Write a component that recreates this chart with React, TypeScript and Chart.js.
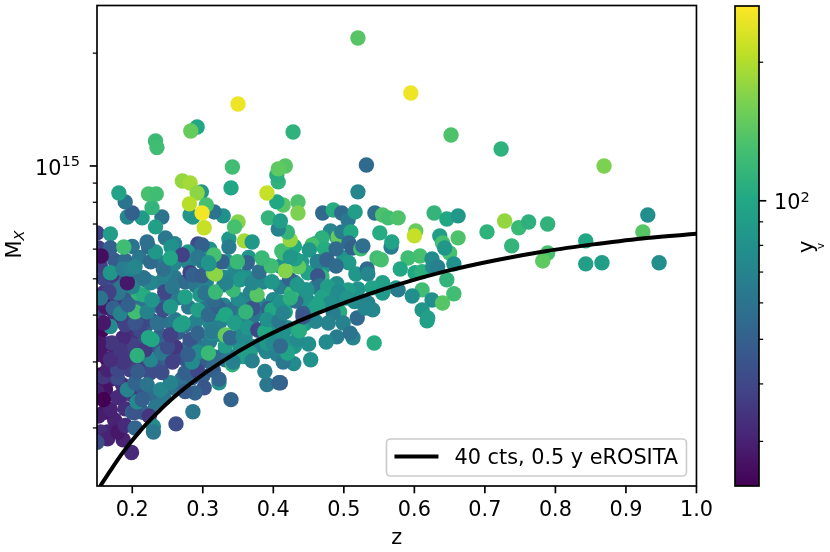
import React, { useEffect, useRef } from "react";
import { Chart, registerables } from "chart.js";

Chart.register(...registerables);

const FONT = "'DejaVu Sans'";
const FS = 20.8;

// Clusters in the crowded part of the plot, mostly hidden below the others
const zDense = [
  .16,.17,.185,.2,.215,.23,.245,.19,.175,.16,.2,.215,.165,.155,
  .26,.27,.285,.3,.315,.33,.345,.36,.31,.295,.275,.26,.24,.225,.21,.2,.175,.165,.2,.215,.235,.25,.28,.265,.295,.31,.325,.345,.36,.37,.39,.405,.415,.43,.45,
  .165,.175,.19,.205,.22,.24,.255,.275,.29,.31,.325,.355,.37,.4,.42,.445,.46,
  .16,.16,.18,.195,.21,.235,.25,.265,.28,.305,.33,.345,.36,.38,.4,.42,.45,.475,.49,.515,
  .16,.155,.175,.19,.205,.22,.24,.26,.275,.29,.305,.33,.345,.36,.385,.41,.43,.46,.49,.52,
  .175,.19,.21,.235,.26,.28,.3,.335,.365,.39,.41,.44,.47,.5,
  .2,.26,.31,.43,.46,.49,
];
const massDense = [
  2.6,2.7,2.45,2.45,2.55,2.45,2.4,2.25,2.1,2.2,2.2,2.2,1.95,1.95,
  2.55,2.7,2.72,2.75,2.85,3.15,3.1,3.15,3.0,3.0,3.05,3.1,2.95,2.8,2.95,3.1,3.3,3.35,3.5,3.35,3.3,3.05,3.3,3.6,3.3,3.4,3.55,3.45,3.5,3.3,3.2,3.15,3.25,3.3,3.35,
  3.75,3.9,4.0,3.95,3.75,3.85,3.8,3.75,3.85,3.8,3.85,3.65,3.75,3.65,3.7,3.8,3.85,
  4.3,4.6,4.4,4.45,4.25,4.25,4.45,4.45,4.2,4.25,4.25,4.15,4.35,4.3,4.4,4.35,4.35,4.5,4.25,4.35,
  5.0,5.4,4.85,5.0,4.95,4.95,4.9,5.05,4.9,4.8,4.9,5.05,5.2,5.1,4.9,4.75,4.9,4.75,4.85,4.7,
  5.6,5.6,5.7,5.6,5.5,5.5,5.55,5.55,5.7,5.45,5.4,5.55,5.35,5.7,
  6.1,6.2,6.0,6.1,6.2,6.45,
];
const yDense = [
  27,30,32,36,45,55,62,33,30,28,48,52,30,33,
  60,58,52,50,48,70,62,72,55,48,45,40,45,42,38,36,30,28,34,42,45,50,55,48,60,65,72,72,80,75,72,68,78,85,78,
  30,32,35,42,50,52,60,62,68,72,68,72,70,80,78,88,72,
  32,35,38,45,58,60,48,65,62,60,72,65,72,68,75,72,82,78,72,75,
  40,38,45,50,58,62,68,62,55,62,70,75,72,80,72,68,78,72,78,82,
  48,55,62,68,72,70,62,82,85,90,80,88,85,82,
  60,72,80,100,85,100,
];

// Cluster redshift
const zValues = [
  .155,.165,.155,.176,.162,.186,.197,.155,.15,.152,
  .169,.179,.204,.207,.214,.233,.193,.204,.221,.24,
  .254,.179,.159,.208,.242,.275,.293,.165,.179,.187,
  .155,.169,.226,.242,.257,.261,.25,.2,.187,.157,
  .261,.24,.282,.211,.254,.183,.218,.155,.19,.226,
  .353,.374,.381,.353,.332,
  .169,.159,.223,.235,.204,.272,.268,.293,.313,.332,
  .293,.315,.285,.279,.308,.367,.384,.391,.4,.357,
  .207,.228,.171,.152,.244,.176,.171,.162,.204,.208,
  .216,.18,.173,.183,.194,.221,.228,.254,.275,.293,
  .246,.257,.226,.193,.2,.183,.167,.155,.246,.216,
  .193,.171,.169,.187,.197,.204,.244,.226,.282,.286,
  .299,.315,.33,.296,.315,.32,.339,.308,.322,.316,
  .303,.318,.332,.345,.313,.332,.339,.357,.364,.378,
  .388,.414,.371,.361,.393,.398,.391,.408,.417,.41,
  .432,.426,.445,.466,.445,.459,.435,.35,.367,.343,
  .377,.353,.37,.398,.333,.318,.449,.423,.436,.417,
  .462,.431,.414,.38,.397,.384,.363,.349,.327,.309,
  .15,.152,.169,.169,.188,.223,.233,.247,.255,.221,
  .293,.299,.279,.271,.293,.254,.316,.308,.156,.337,
  .337,.359,.37,.35,.345,.412,.424,.42,.407,.393,
  .41,.414,.405,.391,.407,.405,.417,.407,.34,.329,
  .316,.242,.233,.214,.193,.2,.228,.19,.181,.223,
  .234,.298,.282,.286,.271,.282,.292,.305,.281,.299,
  .302,.435,.435,.52,.595,.35,.652,.723,.869,.532,
  .428,.292,.283,.233,.235,.342,.52,.47,.485,.497,
  .506,.516,.544,.555,.563,.577,.628,.646,.662,.602,
  .6,.636,.662,.65,.64,.643,.608,.591,.625,.551,
  .567,.568,.547,.553,.58,.601,.611,.626,.633,.656,
  .646,.611,.597,.625,.656,.64,.611,.618,.619,.481,
  .469,.455,.451,.473,.492,.497,.51,.507,.512,.524,
  .527,.489,.507,.463,.476,.489,.424,.469,.463,.517,
  .533,.534,.466,.477,.448,.434,.555,.54,.574,.577,
  .506,.492,.469,.424,.555,.534,.504,.481,.463,.494,
  .485,.519,.541,.53,.442,.414,.543,.513,.49,.475,
  .499,.478,.509,.453,.429,.414,.434,.437,.42,.41,
  .41,.442,.703,.728,.748,.762,.789,.738,.789,.782,
  .843,.843,.866,.924,.931,.947,.199,.187,.165,.18,
  .19,.204,.15,.224,.23,.23,.262,.286,.34,.302,
  .289,.275,.323,.323,.391,.408,.388,.342,.343,.37,
  .159,
];

// Cluster mass, in units of massUnit
const massUnit = 1e14;
const massValues = [
  3.33,3.04,2.77,3.14,2.53,2.61,2.86,2.41,2.5,2.15,
  2.24,2.41,2.2,2.35,2.38,2.28,2.53,2.64,2.61,2.53,
  2.64,2.72,2.74,2.83,2.81,2.81,2.83,2.86,2.86,3.0,
  3.14,3.04,3.04,3.17,3.0,3.29,3.29,3.33,3.48,3.65,
  3.89,3.54,3.44,3.65,3.54,3.23,3.23,4.13,3.77,3.89,
  3.89,4.01,3.33,3.23,3.04,
  3.73,3.81,3.48,3.81,3.81,3.81,3.77,3.58,3.58,3.31,
  3.19,3.10,3.0,3.14,3.17,3.17,3.61,3.37,3.37,3.10,
  3.12,3.44,3.37,3.37,4.13,4.31,4.13,4.21,4.08,4.58,
  4.53,4.58,4.18,4.04,4.26,4.08,4.39,4.21,4.47,4.13,
  4.61,4.76,4.88,4.82,4.76,4.73,4.61,4.44,5.19,5.03,
  4.88,5.12,5.19,5.31,5.31,5.38,5.31,5.55,5.19,5.12,
  5.09,5.19,4.82,4.53,4.47,4.05,4.13,4.01,4.21,4.39,
  4.58,4.61,4.01,3.81,3.61,3.54,3.48,3.50,3.70,3.65,
  3.61,3.50,4.18,4.08,4.16,4.13,3.89,3.85,4.08,4.33,
  4.36,4.58,4.67,4.73,4.01,4.18,3.65,4.42,4.58,4.67,
  4.53,4.97,4.88,4.91,4.88,5.15,5.19,4.99,5.38,5.25,
  5.55,5.65,5.86,5.22,5.41,5.68,5.52,5.55,5.55,5.48,
  6.63,6.04,6.59,6.04,6.08,6.08,5.90,6.43,6.08,6.27,
  6.19,6.16,5.90,5.79,5.72,5.68,5.79,5.52,5.75,6.39,
  6.08,6.31,6.27,7.09,6.88,5.93,6.35,6.66,6.79,7.27,
  7.13,7.87,8.02,8.47,9.07,9.46,10,9.82,8.74,7.36,
  7.54,7.31,6.88,7.27,7.31,7.49,7.74,8.02,8.47,8.42,
  8.42,8.53,7.40,7.31,9.12,9.01,8.47,7.87,7.92,7.49,
  6.84,8.02,7.49,21.95,15.66,14.63,12.1,11.1,10,10.06,
  12.32,12.7,12.4,11.66,11.2,9.94,8.53,7.49,7.63,7.49,
  7.18,7.54,7.49,7.40,7.27,7.27,7.49,7.22,7.36,6.71,
  6.51,6.51,6.43,5.86,6.23,6.04,5.75,5.68,5.65,6.63,
  6.08,6.27,5.68,5.62,5.31,5.19,5.22,5.38,5.38,5.48,
  4.97,4.67,4.50,4.39,4.56,4.31,4.13,3.86,3.93,6.71,
  6.43,6.16,5.97,6.01,6.47,6.67,6.67,6.23,6.04,6.01,
  6.12,6.01,5.52,5.55,5.62,5.41,5.72,5.06,5.09,5.15,
  5.31,5.15,4.79,4.76,4.67,4.82,4.88,4.73,4.73,4.67,
  4.67,4.61,4.47,4.44,4.58,4.31,4.44,4.31,4.26,4.08,
  4.05,3.93,4.13,4.18,4.05,4.05,3.37,3.48,3.50,3.39,
  3.81,3.81,3.58,3.04,2.97,3.0,3.44,3.63,3.17,2.64,
  3.31,3.96,6.67,7.13,6.84,7.09,7.0,6.12,5.86,5.58,
  6.31,5.48,5.52,6.67,7.40,5.52,1.72,1.86,1.87,1.95,
  2.03,2.0,1.83,2.15,2.02,1.95,2.05,2.21,2.38,2.56,
  2.48,2.50,2.64,2.70,2.61,2.64,2.83,2.95,3.0,3.02,
  2.38,
];

// Colour quantity
const yValues = [
  28,26,25,30,27,33,38,25,30,29,
  30,32,45,75,50,62,70,52,60,72,
  70,42,35,48,42,50,40,30,40,35,
  28,33,72,62,38,35,42,38,32,25,
  62,50,45,40,38,35,36,40,38,40,
  72,60,70,80,60,
  75,28,100,58,45,95,92,52,80,90,
  75,55,75,50,120,90,105,85,75,90,
  110,100,35,28,42,35,32,28,125,115,
  105,62,50,70,50,70,82,85,92,92,
  40,62,72,68,70,62,38,60,70,60,
  28,35,85,65,68,72,58,55,38,50,
  48,155,68,85,48,95,58,55,50,55,
  60,120,100,90,65,150,55,75,85,40,
  100,80,45,115,50,100,80,62,100,80,
  55,120,80,60,50,95,100,75,70,120,
  140,85,72,85,70,175,95,52,145,170,
  72,92,125,58,125,120,52,120,50,80,
  38,38,90,50,125,55,85,62,80,58,
  42,50,85,38,62,100,130,82,26,85,
  65,190,85,170,130,125,180,115,70,115,
  90,140,100,215,112,108,140,145,100,80,
  60,60,92,88,72,50,115,60,95,130,
  125,85,85,85,180,190,175,130,205,255,
  215,135,165,140,250,250,135,112,165,55,
  112,100,150,122,125,125,72,55,105,55,
  62,90,58,135,128,135,115,100,85,150,
  215,90,135,130,130,85,130,125,75,105,
  65,95,125,130,100,100,110,75,68,80,
  115,125,78,78,125,140,85,92,92,72,
  110,130,85,105,150,65,100,55,50,125,
  58,55,88,70,52,55,85,115,45,85,
  55,72,58,90,82,85,92,95,85,65,
  90,75,95,110,88,70,82,78,95,105,
  65,55,72,72,50,70,105,72,65,75,
  70,70,60,80,75,62,75,105,95,48,
  55,45,112,180,120,110,112,115,130,145,
  100,92,90,140,78,78,32,30,30,28,
  32,52,42,35,75,62,42,62,52,45,
  52,48,78,52,62,52,68,110,68,68,
  24,
];

// Survey limit curve
const curveZ = [.1547,.1688,.1873,.2113,.2354,.2581,.2822,.3289,.3771,.4238,.5045,.5753,.6462,.717,.7878,.8586,.9295,1.0];
const curveMass = [1.40,1.537,1.727,1.965,2.194,2.406,2.623,3.02,3.415,3.767,4.338,4.816,5.248,5.614,5.934,6.194,6.427,6.59];

const xTicks = [0.2,0.3,0.4,0.5,0.6,0.7,0.8,0.9,1.0];
const yTicks = [2e14,3e14,4e14,5e14,6e14,7e14,8e14,9e14,1e15,2e15];
const colorTicks = [30,40,50,60,70,80,90,100,200];
const xRange = [0.15, 1.0];
const yRange = [1.4e14, 2.68e15];
const colorRange = [24, 265];
const legendText = "40 cts, 0.5 y eROSITA";

const VIRIDIS = ["#440154","#482475","#414487","#355f8d","#2a788e","#21918c","#22a884","#44bf70","#7ad151","#bddf26","#fde725"];
const rgb = (h: string) => [1,3,5].map((i) => parseInt(h.slice(i, i + 2), 16));
function viridis(t: number) {
  const c = Math.min(1, Math.max(0, t)) * 10;
  const i = Math.min(9, Math.floor(c));
  const a = rgb(VIRIDIS[i]), b = rgb(VIRIDIS[i + 1]);
  const m = a.map((v, k) => Math.round(v + (b[k] - v) * (c - i)));
  return `rgb(${m[0]},${m[1]},${m[2]})`;
}
const colorOf = (y: number) =>
  viridis(Math.log(y / colorRange[0]) / Math.log(colorRange[1] / colorRange[0]));

function drawPower(ctx: CanvasRenderingContext2D, right: number, y: number, exp: string) {
  ctx.textAlign = "left";
  ctx.textBaseline = "alphabetic";
  ctx.font = `${FS}px ${FONT}`;
  const w10 = ctx.measureText("10").width;
  ctx.font = `${FS * 0.7}px ${FONT}`;
  const we = ctx.measureText(exp).width;
  const left = right - w10 - we;
  ctx.font = `${FS}px ${FONT}`;
  ctx.fillText("10", left, y + 9);
  ctx.font = `${FS * 0.7}px ${FONT}`;
  ctx.fillText(exp, left + w10, y + 0.5);
}

const mainDecor = {
  id: "mainDecor",
  afterDatasetsDraw(chart: any) {
    const { ctx, chartArea: a, scales } = chart;
    ctx.save();
    ctx.strokeStyle = "#000";
    ctx.fillStyle = "#000";
    ctx.lineWidth = 1.67;
    for (const t of scales.x.ticks) {
      const p = scales.x.getPixelForValue(t.value);
      ctx.beginPath(); ctx.moveTo(p, a.bottom); ctx.lineTo(p, a.bottom + 7.3); ctx.stroke();
    }
    for (const t of scales.y.ticks) {
      const major = Math.abs(t.value - 1e15) < 1;
      const p = scales.y.getPixelForValue(t.value);
      ctx.lineWidth = major ? 1.67 : 1.25;
      ctx.beginPath(); ctx.moveTo(a.left, p); ctx.lineTo(a.left - (major ? 7.3 : 4.17), p); ctx.stroke();
      if (major) drawPower(ctx, a.left - 17, p, "15");
    }
    ctx.lineWidth = 1.67;
    ctx.strokeRect(a.left, a.top, a.right - a.left, a.bottom - a.top);
    // y title
    ctx.save();
    ctx.translate(21, 258.5);
    ctx.rotate(-Math.PI / 2);
    ctx.textAlign = "left";
    ctx.textBaseline = "alphabetic";
    ctx.font = `${FS}px ${FONT}`;
    ctx.fillText("M", 0, 0);
    const w = ctx.measureText("M").width;
    ctx.font = `italic ${FS * 0.7}px ${FONT}`;
    ctx.fillText("X", w, 3);
    ctx.restore();
    // legend
    const lx = a.right - 310, ly = a.bottom - 47, lw = 300, lh = 37;
    ctx.beginPath();
    ctx.roundRect(lx, ly, lw, lh, 4);
    ctx.fillStyle = "rgba(255,255,255,0.8)";
    ctx.fill();
    ctx.strokeStyle = "#cccccc";
    ctx.lineWidth = 1.67;
    ctx.stroke();
    ctx.strokeStyle = "#000";
    ctx.lineWidth = 4;
    ctx.beginPath(); ctx.moveTo(lx + 8, ly + 17.5); ctx.lineTo(lx + 52, ly + 17.5); ctx.stroke();
    ctx.fillStyle = "#000";
    ctx.font = `${FS}px ${FONT}`;
    ctx.textAlign = "left";
    ctx.textBaseline = "alphabetic";
    ctx.fillText(legendText, lx + 68, ly + 25);
    ctx.restore();
  },
};

const colorDecor = {
  id: "colorDecor",
  afterDatasetsDraw(chart: any) {
    const { ctx, chartArea: a, scales } = chart;
    ctx.save();
    ctx.strokeStyle = "#000";
    ctx.fillStyle = "#000";
    for (const t of scales.y.ticks) {
      const major = t.value === 100;
      const p = scales.y.getPixelForValue(t.value);
      ctx.lineWidth = major ? 1.67 : 1.25;
      ctx.beginPath(); ctx.moveTo(a.right, p); ctx.lineTo(a.right + (major ? 7.3 : 4.17), p); ctx.stroke();
      if (major) {
        ctx.textAlign = "left";
        ctx.textBaseline = "alphabetic";
        ctx.font = `${FS}px ${FONT}`;
        const w = ctx.measureText("10").width;
        ctx.fillText("10", a.right + 15, p + 8);
        ctx.font = `${FS * 0.7}px ${FONT}`;
        ctx.fillText("2", a.right + 15 + w, p + 1);
      }
    }
    ctx.lineWidth = 1.67;
    ctx.strokeRect(a.left, a.top, a.right - a.left, a.bottom - a.top);
    // colour-bar title
    ctx.save();
    ctx.translate(88, (a.top + a.bottom) / 2 + 7);
    ctx.rotate(-Math.PI / 2);
    ctx.textAlign = "left";
    ctx.textBaseline = "alphabetic";
    ctx.font = `${FS}px ${FONT}`;
    ctx.fillText("y", 0, 0);
    ctx.font = `${FS * 0.5}px ${FONT}`;
    ctx.fillText("v", 4, 10.5);
    ctx.restore();
    ctx.restore();
  },
};

export default function App() {
  const mainRef = useRef<HTMLCanvasElement>(null);
  const barRef = useRef<HTMLCanvasElement>(null);

  useEffect(() => {
    const allZ = [...zDense, ...zValues];
    const allMass = [...massDense, ...massValues];
    const allY = [...yDense, ...yValues];
    const main = new Chart(mainRef.current as HTMLCanvasElement, {
      type: "scatter",
      data: {
        datasets: [
          {
            label: legendText,
            data: curveZ.map((z, i) => ({ x: z, y: curveMass[i] * massUnit })),
            showLine: true,
            borderColor: "#000",
            borderWidth: 4,
            pointRadius: 0,
            cubicInterpolationMode: "monotone",
            order: 0,
          },
          {
            label: "clusters",
            data: allZ.map((z, i) => ({ x: z, y: allMass[i] * massUnit })),
            backgroundColor: allY.map(colorOf),
            borderWidth: 0,
            pointRadius: 7.7,
            pointHoverRadius: 7.7,
            order: 1,
          },
        ],
      } as any,
      options: {
        animation: false,
        responsive: false,
        devicePixelRatio: 1,
        layout: { autoPadding: false, padding: { left: 0, right: 28, top: 5.5, bottom: 0 } },
        plugins: { legend: { display: false }, tooltip: { enabled: false } },
        scales: {
          x: {
            type: "linear",
            min: xRange[0],
            max: xRange[1],
            afterBuildTicks: (s: any) => { s.ticks = xTicks.map((value) => ({ value })); },
            afterFit: (s: any) => { s.height = 66; },
            grid: { display: false, drawTicks: false },
            border: { display: false },
            ticks: {
              autoSkip: false,
              maxRotation: 0,
              padding: 12,
              color: "#000",
              font: { family: "DejaVu Sans", size: FS },
              callback: (v: any) => Number(v).toFixed(1),
            },
            title: {
              display: true,
              text: "z",
              color: "#000",
              font: { family: "DejaVu Sans", size: FS },
              padding: { top: 0, bottom: 1 },
            },
          },
          y: {
            type: "logarithmic",
            min: yRange[0],
            max: yRange[1],
            afterBuildTicks: (s: any) => { s.ticks = yTicks.map((value) => ({ value })); },
            afterFit: (s: any) => { s.width = 97; },
            grid: { display: false, drawTicks: false },
            border: { display: false },
            ticks: { display: false },
          },
        },
      } as any,
      plugins: [mainDecor],
    });

    const bar = new Chart(barRef.current as HTMLCanvasElement, {
      type: "bar",
      data: {
        labels: ["y"],
        datasets: [
          {
            data: [colorRange],
            barPercentage: 1,
            categoryPercentage: 1,
            borderWidth: 0,
            backgroundColor: (c: any) => {
              const a = c.chart.chartArea;
              if (!a) return VIRIDIS[5];
              const g = c.chart.ctx.createLinearGradient(0, a.bottom, 0, a.top);
              VIRIDIS.forEach((col, i) => g.addColorStop(i / 10, col));
              return g;
            },
          },
        ],
      } as any,
      options: {
        animation: false,
        responsive: false,
        devicePixelRatio: 1,
        layout: { padding: { left: 10, right: 0, top: 6, bottom: 66 } },
        plugins: { legend: { display: false }, tooltip: { enabled: false } },
        scales: {
          x: { display: false },
          y: {
            type: "logarithmic",
            position: "right",
            min: colorRange[0],
            max: colorRange[1],
            afterBuildTicks: (s: any) => { s.ticks = colorTicks.map((value) => ({ value })); },
            afterFit: (s: any) => { s.width = 71; },
            grid: { display: false, drawTicks: false },
            border: { display: false },
            ticks: { display: false },
          },
        },
      } as any,
      plugins: [colorDecor],
    });

    return () => {
      main.destroy();
      bar.destroy();
    };
  }, []);

  return (
    <div style={{ position: "absolute", left: 0, top: 0, width: 830, height: 552, background: "#fff", overflow: "hidden" }}>
      <canvas ref={mainRef} width={725} height={552} style={{ position: "absolute", left: 0, top: 0, width: 725, height: 552 }} />
      <canvas ref={barRef} width={105} height={552} style={{ position: "absolute", left: 725, top: 0, width: 105, height: 552 }} />
    </div>
  );
}
